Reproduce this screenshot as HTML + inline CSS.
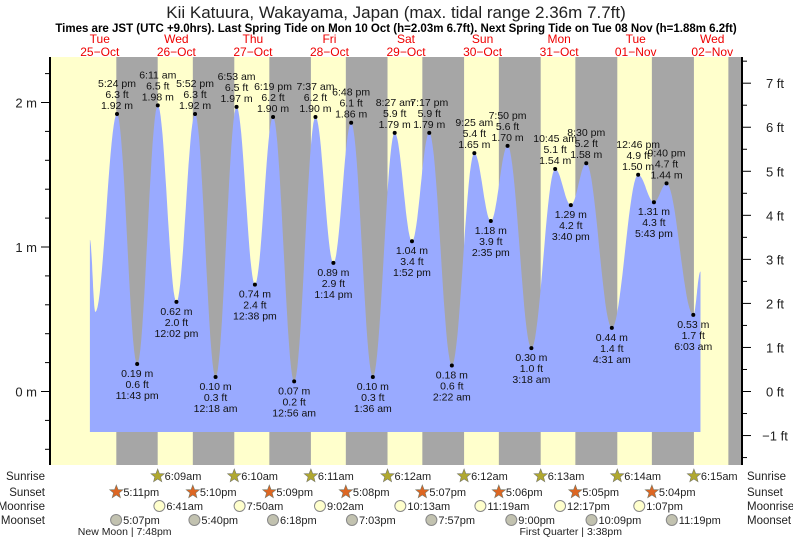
<!DOCTYPE html>
<html><head><meta charset="utf-8"><style>
body{margin:0;background:#fff;width:793px;height:539px;overflow:hidden;font-family:"Liberation Sans",sans-serif}
svg text{font-family:"Liberation Sans",sans-serif}
</style></head><body>
<svg id="c" width="793" height="539" xmlns="http://www.w3.org/2000/svg">
<text x="396" y="18" text-anchor="middle" font-size="17" fill="#222">Kii Katuura, Wakayama, Japan (max. tidal range 2.36m 7.7ft)</text>
<text x="396" y="32" text-anchor="middle" font-size="11.5" font-weight="bold" fill="#000">Times are JST (UTC +9.0hrs). Last Spring Tide on Mon 10 Oct (h=2.03m 6.7ft). Next Spring Tide on Tue 08 Nov (h=1.88m 6.2ft)</text>
</svg>
<script>
const dayNames=["Tue","Wed","Thu","Fri","Sat","Sun","Mon","Tue","Wed"];
const dayDates=["25\u2212Oct","26\u2212Oct","27\u2212Oct","28\u2212Oct","29\u2212Oct","30\u2212Oct","31\u2212Oct","01\u2212Nov","02\u2212Nov"];
const tideTimes=[[0,17,24],[0,23,43],[1,6,11],[1,12,2],[1,17,52],[2,0,18],[2,6,53],[2,12,38],[2,18,19],[3,0,56],[3,7,37],[3,13,14],[3,18,48],[4,1,36],[4,8,27],[4,13,52],[4,19,17],[5,2,22],[5,9,25],[5,14,35],[5,19,50],[6,3,18],[6,10,45],[6,15,40],[6,20,30],[7,4,31],[7,12,46],[7,17,43],[7,21,40],[8,6,3]];
const tideHeights=[1.92,0.19,1.98,0.62,1.92,0.10,1.97,0.74,1.90,0.07,1.90,0.89,1.86,0.10,1.79,1.04,1.79,0.18,1.65,1.18,1.70,0.30,1.54,1.29,1.58,0.44,1.50,1.31,1.44,0.53];
const tideLabels=["5:24 pm","11:43 pm","6:11 am","12:02 pm","5:52 pm","12:18 am","6:53 am","12:38 pm","6:19 pm","12:56 am","7:37 am","1:14 pm","6:48 pm","1:36 am","8:27 am","1:52 pm","7:17 pm","2:22 am","9:25 am","2:35 pm","7:50 pm","3:18 am","10:45 am","3:40 pm","8:30 pm","4:31 am","12:46 pm","5:43 pm","9:40 pm","6:03 am"];
const startPoint=[0,8.9,1.05], earlyLow=[0,10.6,0.55], endPoint=[8,8.3,0.83];
const sunrise=[[1,6,9],[2,6,10],[3,6,11],[4,6,12],[5,6,12],[6,6,13],[7,6,14],[8,6,15]];
const sunriseLabels=["6:09am","6:10am","6:11am","6:12am","6:12am","6:13am","6:14am","6:15am"];
const sunset=[[0,17,11],[1,17,10],[2,17,9],[3,17,8],[4,17,7],[5,17,6],[6,17,5],[7,17,4],[8,17,3]];
const sunsetLabels=["5:11pm","5:10pm","5:09pm","5:08pm","5:07pm","5:06pm","5:05pm","5:04pm"];
const moonrise=[[1,6,41],[2,7,50],[3,9,2],[4,10,13],[5,11,19],[6,12,17],[7,13,7]];
const moonriseLabels=["6:41am","7:50am","9:02am","10:13am","11:19am","12:17pm","1:07pm"];
const moonset=[[0,17,7],[1,17,40],[2,18,18],[3,19,3],[4,19,57],[5,21,0],[6,22,9],[7,23,19]];
const moonsetLabels=["5:07pm","5:40pm","6:18pm","7:03pm","7:57pm","9:00pm","10:09pm","11:19pm"];

const svg=document.getElementById('c');const NS="http://www.w3.org/2000/svg";
const X0=50,X1=742,Y0=57,Y1=465;
function tx(d,h,m){return 61.5+(d*24+h+(m||0)/60)*3.19;}
function ym(v){return 391.5-144.5*v;}
function mk(tag,at,par){const e=document.createElementNS(NS,tag);for(const k in at)e.setAttribute(k,at[k]);(par||svg).appendChild(e);return e;}
function txt(x,y,s,size,anchor,fill){const e=mk('text',{x:x,y:y,'font-size':size,'text-anchor':anchor||'middle',fill:fill||'#111'});e.textContent=s;return e;}

const bg=mk('rect',{x:X0,y:Y0,width:X1-X0,height:Y1-Y0,fill:'#ffffcc'});


for(let i=0;i<sunset.length;i++){
  const xa=tx(...sunset[i]);const xb=i<sunrise.length?tx(...sunrise[i]):X1;
  const r=mk('rect',{x:xa,y:Y0,width:Math.min(xb,X1)-xa,height:Y1-Y0,fill:'#a6a6a6'});
  
  
}
const pts=[startPoint,earlyLow];
for(let i=0;i<tideTimes.length;i++)pts.push([tideTimes[i][0],tideTimes[i][1]+tideTimes[i][2]/60,tideHeights[i]]);
pts.push(endPoint);
let d='M'+tx(pts[0][0],pts[0][1])+','+(Y1-33);
d+=' L'+tx(pts[0][0],pts[0][1])+','+ym(pts[0][2]);
for(let i=0;i<pts.length-1;i++){
  const xa=tx(pts[i][0],pts[i][1]),xb=tx(pts[i+1][0],pts[i+1][1]),va=pts[i][2],vb=pts[i+1][2];
  for(let k=1;k<=20;k++){const t=k/20;const v=va+(vb-va)*(1-Math.cos(Math.PI*t))/2;d+=' L'+(xa+(xb-xa)*t).toFixed(1)+','+ym(v).toFixed(1);}
}
d+=' L'+tx(endPoint[0],endPoint[1])+','+(Y1-33)+' Z';
const area=mk('path',{d:d,fill:'#99aaff'});


for(let i=0;i<tideTimes.length;i++){
  const x=tx(tideTimes[i][0],tideTimes[i][1],tideTimes[i][2]),y=ym(tideHeights[i]);
  const hi=i%2===0;
  const dot=mk('circle',{cx:x,cy:y,r:2,fill:'#000'});
  
  
  const m=tideHeights[i].toFixed(2)+' m',f=(tideHeights[i]*3.2808).toFixed(1)+' ft';
  const lines=hi?[tideLabels[i],f,m]:[m,f,tideLabels[i]];
  const base=hi?y-27:y+13;
  lines.forEach((s,j)=>{const t=txt(x,base+j*11,s,10.5);});
}
mk('line',{x1:X0,y1:Y0,x2:X0,y2:Y1,stroke:'#000','stroke-width':2});
mk('line',{x1:X1,y1:Y0,x2:X1,y2:Y1,stroke:'#000','stroke-width':2});
for(let v=-0.6;v<=2.41;v+=0.2){const y=ym(v);if(y<Y0||y>Y1)continue;mk('line',{x1:X0-5,y1:y,x2:X0,y2:y,stroke:'#000'});}
[0,1,2].forEach(v=>{const y=ym(v);mk('line',{x1:X0-9,y1:y,x2:X0,y2:y,stroke:'#000'});const t=txt(X0-13,y+5,v+' m',13,'end','#222');});
for(let f=-1.5;f<=7.6;f+=0.5){const y=ym(f/3.2808);if(y<Y0||y>Y1)continue;const maj=Math.abs(f-Math.round(f))<0.01;mk('line',{x1:X1,y1:y,x2:X1+(maj?9:5),y2:y,stroke:'#000'});
 if(maj){const t=txt(X1+33,y+5,(f<0?'\u22121':f)+' ft',13,'middle','#222');}}
for(let i=0;i<dayNames.length;i++){const x=tx(i,12);
 const a=txt(x,43,dayNames[i],12,'middle','#e00');
 const b=txt(x,56,dayDates[i],12,'middle','#e00');}
const rows=[['Sunrise',476],['Sunset',492],['Moonrise',506],['Moonset',520]];
rows.forEach(r=>{const a=txt(45,r[1]+4,r[0],11.5,'end','#222');
 const b=txt(747,r[1]+4,r[0],11.5,'start','#222');});
function star(x,y,fill){let p='';for(let k=0;k<10;k++){const r=k%2?3:7;const a=-Math.PI/2+k*Math.PI/5;p+=(x+r*Math.cos(a)).toFixed(1)+','+(y+r*Math.sin(a)).toFixed(1)+' ';}return mk('polygon',{points:p,fill:fill,stroke:'#776',"stroke-width":0.6});}
function evRow(arr,labels,y,kind){for(let i=0;i<labels.length;i++){const x=tx(...arr[i]);let ic;
 if(kind==='sr')ic=star(x,y,'#b0a830');else if(kind==='ss')ic=star(x,y,'#dd6622');
 else ic=mk('circle',{cx:x,cy:y,r:5.5,fill:kind==='mr'?'#ffffcc':'#c2c2b0',stroke:'#888'});
 
 const t=txt(x+7,y+4,labels[i],11,'start','#222');}}
evRow(sunrise,sunriseLabels,476,'sr');evRow(sunset,sunsetLabels,492,'ss');evRow(moonrise,moonriseLabels,506,'mr');evRow(moonset,moonsetLabels,520,'ms');
const nm=txt(tx(0,19,48),535,'New Moon | 7:48pm',10.5,'middle','#222');
const fq=txt(tx(6,15,38),535,'First Quarter | 3:38pm',10.5,'middle','#222');
</script>
</body></html>
